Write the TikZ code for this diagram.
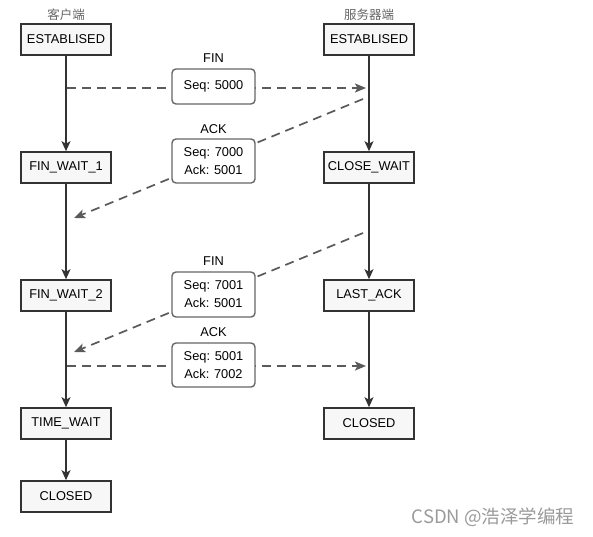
\documentclass[tikz,border=0pt]{standalone}
\usepackage{fontspec}
\setmainfont{Liberation Sans}
\newfontfamily\cjk{Noto Sans CJK SC}
\usetikzlibrary{arrows.meta}
\definecolor{boxline}{HTML}{333333}
\definecolor{boxfill}{HTML}{F7F7F7}
\definecolor{msgline}{HTML}{666666}
\definecolor{dashc}{HTML}{5A5A5A}
\definecolor{wm}{HTML}{9A9A9A}
\begin{document}
\begin{tikzpicture}[x=1pt,y=-1pt,
  state/.style={draw=boxline, fill=boxfill, line width=1.6pt, minimum width=90pt, minimum height=31pt, inner sep=0pt, font=\fontsize{12.8}{15}\selectfont},
  msg/.style={draw=msgline, fill=white, line width=1.4pt, rounded corners=4pt, minimum width=83pt, inner sep=0pt, align=center, font=\fontsize{12.8}{18}\selectfont},
  flow/.style={draw=boxline, line width=1.6pt, -{Stealth[length=10pt,width=9pt,inset=2.5pt]}},
  msgarrow/.style={draw=dashc, line width=1.7pt, dash pattern=on 9pt off 6pt, -{Stealth[length=11pt,width=9pt,inset=2.5pt]}},
  lbl/.style={font=\fontsize{12.8}{15}\selectfont, inner sep=0pt},
  side/.style={font=\cjk\fontsize{12.5}{14}\selectfont, text=black!60, inner sep=0pt},
]
\useasboundingbox (0,0) rectangle (593,536);

% side headers
\node[side] (hc) at (66,15) {客户端};
\node[side] (hs) at (369,15) {服务器端};

% states
\node[state] (c0) at (66,39.5) {ESTABLISED};
\node[state] (c1) at (66,167.5) {FIN\_WAIT\_1};
\node[state] (c2) at (66,295.5) {FIN\_WAIT\_2};
\node[state] (c3) at (66,423.5) {TIME\_WAIT};
\node[state] (c4) at (66,496.5) {CLOSED};
\node[state] (s0) at (369,39.5) {ESTABLISED};
\node[state] (s1) at (369,167.5) {CLOSE\_WAIT};
\node[state] (s2) at (369,295.5) {LAST\_ACK};
\node[state] (s3) at (369,423.5) {CLOSED};

% lifelines
\draw[flow] (c0) -- (c1);
\draw[flow] (c1) -- (c2);
\draw[flow] (c2) -- (c3);
\draw[flow] (c3) -- (c4);
\draw[flow] (s0) -- (s1);
\draw[flow] (s1) -- (s2);
\draw[flow] (s2) -- (s3);

% message endpoints
\coordinate (a1s) at (67,88);
\coordinate (a1e) at (366,88);
\coordinate (a2s) at (363,99);
\coordinate (a2e) at (74,218);
\coordinate (a3s) at (363,233);
\coordinate (a3e) at (74,352);
\coordinate (a4s) at (67,366);
\coordinate (a4e) at (366,366);

\draw[msgarrow] (a1s) -- (a1e);
\draw[msgarrow] (a2s) -- (a2e);
\draw[msgarrow] (a3s) -- (a3e);
\draw[msgarrow] (a4s) -- (a4e);

% message boxes
\node[msg, minimum height=35pt] (m1) at (213.5,86.5) {Seq: 5000};
\node[lbl] (l1) at (213.5,58) {FIN};
\node[msg, minimum height=44pt] (m2) at (213.5,161) {Seq: 7000\\Ack: 5001};
\node[lbl] (l2) at (213.5,129) {ACK};
\node[msg, minimum height=45pt] (m3) at (213.5,294.5) {Seq: 7001\\Ack: 5001};
\node[lbl] (l3) at (213.5,261) {FIN};
\node[msg, minimum height=44pt] (m4) at (213.5,365) {Seq: 5001\\Ack: 7002};
\node[lbl] (l4) at (213.5,332) {ACK};

% watermark
\node[font=\cjk\fontsize{18.5}{20}\selectfont, text=wm, inner sep=0pt] (wmk) at (493,517) {CSDN @浩泽学编程};
\end{tikzpicture}
\end{document}
